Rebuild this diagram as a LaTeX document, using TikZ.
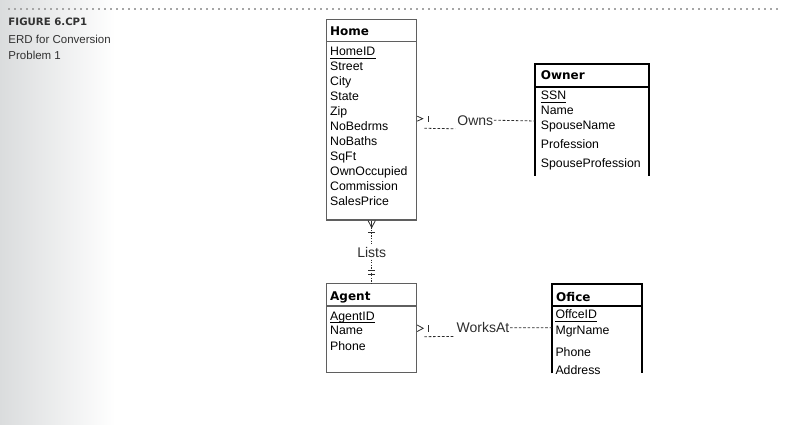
\documentclass[tikz,border=0pt]{standalone}
\usepackage{fontspec}
\setmainfont{Liberation Sans}
\newfontfamily\headfont{DejaVu Sans}
\usepackage{xcolor}
\usetikzlibrary{positioning}

\definecolor{figgray}{RGB}{218,220,221}
\definecolor{capgray}{RGB}{50,50,50}
\definecolor{boxgray}{RGB}{95,95,95}
\definecolor{linkgray}{RGB}{45,45,45}

\tikzset{
    entbox/.style={draw=boxgray, line width=1.3pt, outer sep=0pt, inner sep=0pt, anchor=north west},
    entline/.style={boxgray, line width=1.3pt},
    openbox/.style={black, line width=2pt},
    attr/.style={anchor=base west, inner sep=0pt, font=\fontsize{12.3}{14}\selectfont, text=black},
    head/.style={anchor=base west, inner sep=0pt, font=\headfont\bfseries\fontsize{12}{14}\selectfont},
    rel/.style={anchor=base west, inner sep=0.5pt, font=\fontsize{14}{16}\selectfont, text=linkgray},
    keyline/.style={black, line width=0.9pt},
    link/.style={linkgray, line width=0.8pt, dash pattern=on 2.6pt off 1.8pt},
    dotlink/.style={linkgray, line width=0.8pt, dash pattern=on 1.2pt off 1.4pt},
    foot/.style={linkgray, line width=0.8pt}
}

\begin{document}
\begin{tikzpicture}[x=1pt, y=-1pt]
    \useasboundingbox (0,0) rectangle (800,425);

    % Page margin shading and top rule
    \shade[left color=figgray, right color=white] (0,0) rectangle (115,425);
    \draw[gray!70, line width=1.3pt, dash pattern=on 1.5pt off 4.5pt] (8.3,9) -- (782,9);

    % Figure caption
    \node[anchor=base west, inner sep=0pt, font=\headfont\bfseries\fontsize{10.2}{12}\selectfont, text=capgray] (figno) at (8.3,25.7) {FIGURE 6.CP1};
    \node[anchor=base west, inner sep=0pt, font=\fontsize{11.5}{13}\selectfont, text=capgray] (figtitle) at (8.3,43.3) {ERD for Conversion};
    \node[anchor=base west, inner sep=0pt, font=\fontsize{11.5}{13}\selectfont, text=capgray] (figprob) at (8.3,59.3) {Problem 1};

    % Home entity
    \node[entbox, minimum width=90pt, minimum height=200.7pt] (home) at (326.7,19.3) {};
    \draw[entline] ([shift={(0,22.4)}]home.north west) -- ([shift={(0,22.4)}]home.north east);
    \node[head] (home-name) at (330,35.7) {Home};
    \node[attr] (home-id) at (330,55.5) {HomeID};
    \draw[keyline] ([shift={(0,2.7)}]home-id.base west) -- ([shift={(0,2.7)}]home-id.base east);
    \node[attr] (home-street) at (330,70.5) {Street};
    \node[attr] (home-city) at (330,85.4) {City};
    \node[attr] (home-state) at (330,100.4) {State};
    \node[attr] (home-zip) at (330,115.3) {Zip};
    \node[attr] (home-bed) at (330,130.3) {NoBedrms};
    \node[attr] (home-bath) at (330,145.2) {NoBaths};
    \node[attr] (home-sqft) at (330,160.2) {SqFt};
    \node[attr] (home-occ) at (330,175.1) {OwnOccupied};
    \node[attr] (home-comm) at (330,190.1) {Commission};
    \node[attr] (home-price) at (330,205) {SalesPrice};

    % Owner entity (open at the bottom)
    \draw[openbox] (535,175.7) |- (649.3,64) -- (649.3,175.7);
    \draw[openbox] (535,87.3) -- (649.3,87.3);
    \coordinate (owner-w) at (535,121);
    \node[head] (owner-name) at (540.7,80) {Owner};
    \node[attr] (owner-ssn) at (540.7,99.3) {SSN};
    \draw[keyline] ([shift={(0,2.7)}]owner-ssn.base west) -- ([shift={(0,2.7)}]owner-ssn.base east);
    \node[attr] (owner-nm) at (540.7,114) {Name};
    \node[attr] (owner-sp) at (540.7,130) {SpouseName};
    \node[attr] (owner-prof) at (540.7,149) {Profession};
    \node[attr] (owner-spprof) at (540.7,167.3) {SpouseProfession};

    % Agent entity
    \node[entbox, minimum width=90pt, minimum height=89.4pt] (agent) at (326.7,283.3) {};
    \draw[entline] ([shift={(0,22.7)}]agent.north west) -- ([shift={(0,22.7)}]agent.north east);
    \node[head] (agent-name) at (330,300) {Agent};
    \node[attr] (agent-id) at (330,320) {AgentID};
    \draw[keyline] ([shift={(0,2.4)}]agent-id.base west) -- ([shift={(0,2.4)}]agent-id.base east);
    \node[attr] (agent-nm) at (330,334) {Name};
    \node[attr] (agent-ph) at (330,350) {Phone};

    % Office entity (open at the bottom)
    \draw[openbox] (552.3,373.3) |- (642,284.3) -- (642,373.3);
    \draw[openbox] (552.3,306) -- (642,306);
    \coordinate (office-w) at (552.3,327.7);
    \node[head] (office-name) at (556,301) {Ofice};
    \node[attr] (office-id) at (555.3,318.3) {OffceID};
    \draw[keyline] ([shift={(0,3)}]office-id.base west) -- ([shift={(0,3)}]office-id.base east);
    \node[attr] (office-mgr) at (555.3,334.3) {MgrName};
    \node[attr] (office-ph) at (555.3,356.7) {Phone};
    \node[attr] (office-addr) at (555.3,374) {Address};

    % Owns: Home >|---- Owns ---- Owner
    \node[rel] (owns) at (456.7,125) {Owns};
    \draw[foot] ([shift={(0.5,-3.5)}]home.east) -- ([shift={(6,-1)}]home.east) -- ([shift={(0.5,1.5)}]home.east);
    \draw[foot] ([shift={(11.6,-3.5)}]home.east) -- ([shift={(11.6,2)}]home.east);
    \draw[link] ([shift={(7.6,8.6)}]home.east) -- ([shift={(-1.5,8.6)}]owns.west);
    \draw[link] (owns.east) -- (owner-w);

    % WorksAt: Agent >|---- WorksAt ---- Office
    \node[rel] (works) at (456,332.7) {WorksAt};
    \draw[foot] ([shift={(0.5,-3)}]agent.east) -- ([shift={(6.5,0.3)}]agent.east) -- ([shift={(0.5,3.5)}]agent.east);
    \draw[foot] ([shift={(11.6,-3)}]agent.east) -- ([shift={(11.6,3.5)}]agent.east);
    \draw[link] ([shift={(7.6,8.7)}]agent.east) -- ([shift={(-1,8.7)}]works.west);
    \draw[link] (works.east) -- (office-w);

    % Lists: Home (many) --- Lists --- Agent (one)
    \node[rel, anchor=base, inner sep=2pt] (lists) at (371.7,257.3) {Lists};
    \draw[foot] ([shift={(-3.7,0.5)}]home.south) -- ([shift={(0,7.5)}]home.south) -- ([shift={(3.7,0.5)}]home.south);
    \draw[foot] ([shift={(0,0.5)}]home.south) -- ([shift={(0,7.5)}]home.south);
    \draw[foot] ([shift={(-3.5,12.3)}]home.south) -- ([shift={(3.5,12.3)}]home.south);
    \draw[dotlink] ([shift={(0,7.5)}]home.south) -- (lists.north);
    \draw[dotlink] (lists.south) -- (agent.north);
    \draw[foot] ([shift={(-3.5,-13.3)}]agent.north) -- ([shift={(3.5,-13.3)}]agent.north);
    \draw[foot] ([shift={(-3.5,-9.3)}]agent.north) -- ([shift={(3.5,-9.3)}]agent.north);
\end{tikzpicture}
\end{document}
